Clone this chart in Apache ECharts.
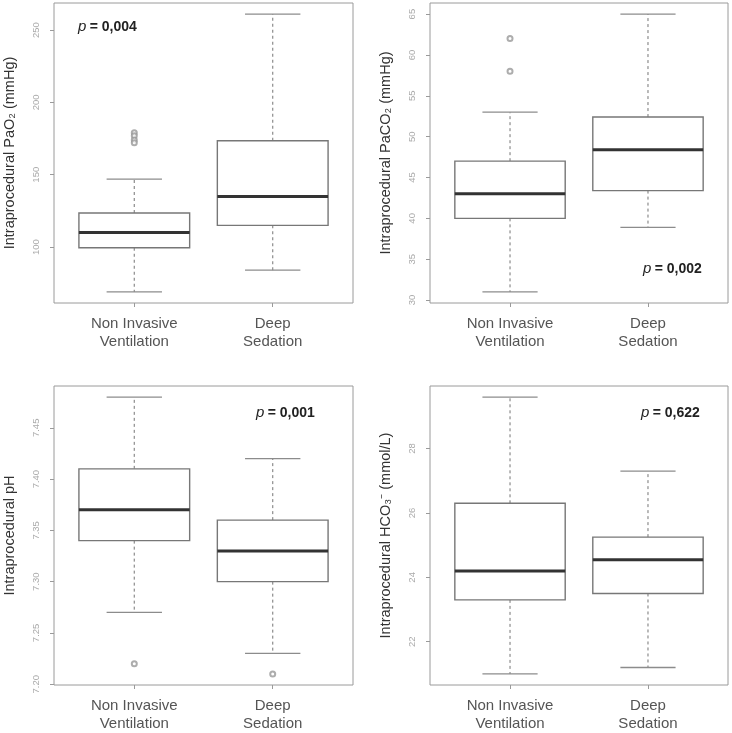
<!DOCTYPE html>
<html>
<head>
<meta charset="utf-8">
<script src="https://cdn.jsdelivr.net/npm/echarts@6/dist/echarts.min.js"></script>
<style>html,body{margin:0;padding:0;background:#fff}#c{width:732px;height:733px}</style>
</head>
<body>
<div id="c"></div>
<script>
// ---- data ----
const categories = ['Non Invasive\nVentilation', 'Deep\nSedation'];
// [lower whisker, Q1, median, Q3, upper whisker]
const pao2Stats = [[69, 99.5, 110, 123.5, 147], [84, 115, 135, 173.5, 261]];
const pao2Outliers = [[179, 177, 174, 172], []];
const pao2Ticks = [100, 150, 200, 250];

const paco2Stats = [[31, 40, 43, 47, 53], [38.9, 43.4, 48.4, 52.4, 65]];
const paco2Outliers = [[62, 58], []];
const paco2Ticks = [30, 35, 40, 45, 50, 55, 60, 65];

const phStats = [[7.27, 7.34, 7.37, 7.41, 7.48], [7.23, 7.30, 7.33, 7.36, 7.42]];
const phOutliers = [[7.22], [7.21]];
const phTicks = [7.20, 7.25, 7.30, 7.35, 7.40, 7.45];

const hco3Stats = [[21.0, 23.3, 24.2, 26.3, 29.6], [21.2, 23.5, 24.55, 25.25, 27.3]];
const hco3Outliers = [[], []];
const hco3Ticks = [22, 24, 26, 28];

const pValues = ['0,004', '0,002', '0,001', '0,622'];

// ---- layout ----
const FONT = '"Liberation Sans", Arial, sans-serif';
const panels = [
  { stats: pao2Stats, out: pao2Outliers, ticks: pao2Ticks, dec: 0,
    name: 'Intraprocedural PaO\u2082 (mmHg)', grid: {left: 54, top: 3, width: 299, height: 300},
    p: {x: 78, y: 27} },
  { stats: paco2Stats, out: paco2Outliers, ticks: paco2Ticks, dec: 0,
    name: 'Intraprocedural PaCO\u2082 (mmHg)', grid: {left: 430, top: 3, width: 298, height: 300},
    p: {x: 643, y: 269} },
  { stats: phStats, out: phOutliers, ticks: phTicks, dec: 2,
    name: 'Intraprocedural pH', grid: {left: 54, top: 386, width: 299, height: 301},
    p: {x: 256, y: 413} },
  { stats: hco3Stats, out: hco3Outliers, ticks: hco3Ticks, dec: 0,
    name: 'Intraprocedural HCO\u2083\u207B (mmol/L)', grid: {left: 430, top: 386, width: 298, height: 301},
    p: {x: 641, y: 413} }
];

const grids = [], xAxes = [], yAxes = [], series = [], graphics = [];

panels.forEach((pn, i) => {
  const all = [];
  pn.stats.forEach(s => all.push(...s));
  pn.out.forEach(o => all.push(...o));
  const lo = Math.min(...all), hi = Math.max(...all), ext = (hi - lo) * 0.04;

  grids.push(Object.assign({show: true, borderColor: '#9a9a9a', borderWidth: 1, backgroundColor: 'transparent'}, pn.grid));
  xAxes.push({
    type: 'value', gridIndex: i, min: 0.42, max: 2.58,
    axisLine: {show: false}, splitLine: {show: false},
    axisTick: {show: true, customValues: [1, 2], length: 4, lineStyle: {color: '#9a9a9a'}},
    axisLabel: {show: true, customValues: [1, 2], margin: 12, fontSize: 15, lineHeight: 18,
      color: '#555', fontFamily: FONT, formatter: v => categories[Math.round(v) - 1]}
  });
  yAxes.push({
    type: 'value', gridIndex: i, min: lo - ext, max: hi + ext,
    axisLine: {show: false}, splitLine: {show: false},
    axisTick: {show: true, customValues: pn.ticks, length: 4, lineStyle: {color: '#9a9a9a'}},
    axisLabel: {show: true, customValues: pn.ticks, rotate: 90, fontSize: 9.5, color: '#aaa',
      margin: 13, fontFamily: FONT, formatter: v => v.toFixed(pn.dec)},
    name: pn.name, nameLocation: 'middle', nameRotate: 90, nameGap: 37,
    nameTextStyle: {fontSize: 14.5, color: '#333', fontFamily: FONT}
  });
  series.push({
    type: 'custom', xAxisIndex: i, yAxisIndex: i,
    data: pn.stats.map((s, k) => [k + 1].concat(s)),
    renderItem: (params, api) => {
      const x = api.value(0);
      const c = v => api.coord([x, v]);
      const pLo = c(api.value(1)), pQ1 = c(api.value(2)), pMed = c(api.value(3)),
            pQ3 = c(api.value(4)), pHi = c(api.value(5));
      const hb = api.size([0.4, 0])[0], hc = api.size([0.2, 0])[0];
      const cx = pMed[0];
      const wStyle = {stroke: '#8c8c8c', lineWidth: 1.2, lineDash: [3, 3], fill: null};
      const cStyle = {stroke: '#8c8c8c', lineWidth: 1.3, fill: null};
      return {type: 'group', children: [
        {type: 'line', shape: {x1: cx, y1: pQ3[1], x2: cx, y2: pHi[1]}, style: wStyle},
        {type: 'line', shape: {x1: cx, y1: pQ1[1], x2: cx, y2: pLo[1]}, style: wStyle},
        {type: 'line', shape: {x1: cx - hc, y1: pHi[1], x2: cx + hc, y2: pHi[1]}, style: cStyle},
        {type: 'line', shape: {x1: cx - hc, y1: pLo[1], x2: cx + hc, y2: pLo[1]}, style: cStyle},
        {type: 'rect', shape: {x: cx - hb, y: pQ3[1], width: 2 * hb, height: pQ1[1] - pQ3[1]},
          style: {fill: '#fff', stroke: '#777', lineWidth: 1.4}},
        {type: 'line', shape: {x1: cx - hb, y1: pMed[1], x2: cx + hb, y2: pMed[1]},
          style: {stroke: '#333', lineWidth: 3}}
      ]};
    }
  });
  const outData = [];
  pn.out.forEach((arr, k) => arr.forEach(v => outData.push([k + 1, v])));
  series.push({
    type: 'scatter', xAxisIndex: i, yAxisIndex: i, data: outData,
    symbol: 'emptyCircle', symbolSize: 5,
    itemStyle: {color: '#999', borderColor: '#999', borderWidth: 1}
  });
  graphics.push({
    type: 'text', x: pn.p.x, y: pn.p.y,
    style: {
      text: '{i|p} {b|= ' + pValues[i] + '}', verticalAlign: 'middle', align: 'left',
      rich: {
        i: {fontSize: 15, fontStyle: 'italic', fontFamily: FONT, fill: '#222', color: '#222'},
        b: {fontSize: 14, fontWeight: 'bold', fontFamily: FONT, fill: '#222', color: '#222'}
      }
    }
  });
});

const chart = echarts.init(document.getElementById('c'), null, {renderer: 'canvas'});
chart.setOption({
  animation: false,
  backgroundColor: '#fff',
  grid: grids, xAxis: xAxes, yAxis: yAxes, series: series,
  graphic: graphics
});
</script>
</body>
</html>
